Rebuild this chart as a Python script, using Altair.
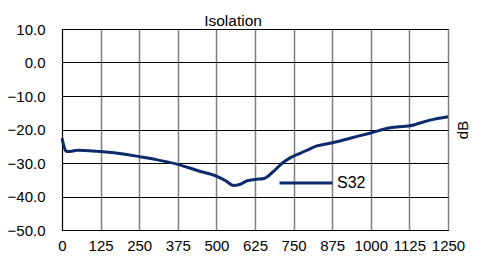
import altair as alt
import pandas as pd

freq = [0, 5, 12, 20, 50, 100, 125, 175, 250, 300, 375, 440, 500, 530, 555, 575,
        600, 625, 655, 684, 710, 740, 771, 800, 825, 850, 879, 933, 997, 1062,
        1127, 1192, 1250]
s32 = [-22.6, -24.5, -26.4, -26.6, -26.2, -26.4, -26.6, -27.0, -28.1, -28.9,
       -30.4, -32.3, -33.9, -35.3, -36.7, -36.4, -35.3, -34.9, -34.6, -32.6,
       -30.3, -28.4, -27.1, -25.9, -24.9, -24.4, -23.9, -22.6, -21.1, -19.5,
       -18.9, -17.2, -16.2]
x_ticks = [0, 125, 250, 375, 500, 625, 750, 875, 1000, 1125, 1250]
y_ticks = [-50, -40, -30, -20, -10, 0, 10]

df = pd.DataFrame({"freq": freq, "val": s32, "series": ["S32"] * len(freq)})

FONT = "Liberation Sans"
FS = 15

xscale = alt.Scale(domain=[0, 1250], nice=False, zero=False)
yscale = alt.Scale(domain=[-50, 10], nice=False, zero=False)

base = alt.Chart(df)

line = base.mark_line(strokeWidth=3, interpolate="monotone").encode(
    x=alt.X("freq:Q", scale=xscale,
            axis=alt.Axis(values=x_ticks, format="d", labelOverlap=False, labelFlush=False,
                          title=None, grid=True, gridColor="#808080", gridWidth=1.5,
                          ticks=False, labelPadding=8, labelFontSize=FS,
                          domainColor="black", labelColor="black")),
    y=alt.Y("val:Q", scale=yscale,
            axis=alt.Axis(values=y_ticks, format=".1f", labelOverlap=False,
                          labelFlush=False, title=None, grid=True, gridColor="black",
                          gridWidth=1, ticks=False, labelPadding=17, labelFontSize=FS,
                          domainColor="black", labelColor="black")),
    color=alt.Color("series:N", scale=alt.Scale(range=["#0c2a6c"]),
                    legend=alt.Legend(title=None, orient="none", legendX=216, legendY=126,
                                      symbolType="stroke", symbolSize=2800,
                                      symbolStrokeWidth=3, labelFontSize=16,
                                      labelOffset=3, padding=0, labelColor="black")),
)

right = base.mark_line(opacity=0).encode(
    x=alt.X("freq:Q", scale=xscale, axis=None),
    y=alt.Y("val:Q", scale=yscale,
            axis=alt.Axis(orient="right", title="dB", labels=False, ticks=False,
                          domain=False, grid=False, titleFontSize=FS, titleAngle=270,
                          titleBaseline="top", titleFontWeight="normal", titlePadding=7,
                          titleColor="black")),
)

chart = alt.layer(line, right).resolve_axis(x="independent", y="independent").properties(
    width=386, height=201,
    title=alt.TitleParams("Isolation", fontSize=15.5, fontWeight="normal", dx=-22, dy=9,
                          offset=2, color="black", font=FONT),
    autosize=alt.AutoSizeParams(type="none"),
    padding={"left": 54, "top": 21, "right": 26, "bottom": 24},
).configure(font=FONT).configure_view(stroke="black", strokeWidth=1).configure_axis(
    labelFont=FONT, titleFont=FONT
).configure_legend(labelFont=FONT)

chart.save("out.html", embed_options={"renderer": "svg", "actions": False})
